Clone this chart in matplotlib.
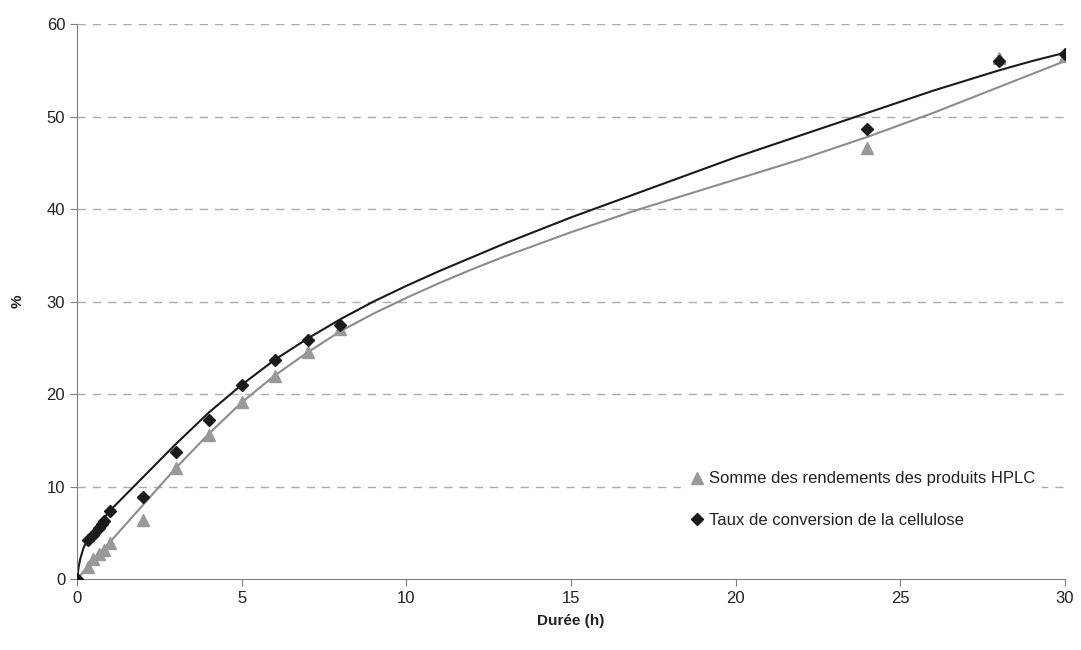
import numpy as np
import matplotlib
matplotlib.use('Agg')
import matplotlib.pyplot as plt

plt.rcParams['font.family'] = ['Liberation Sans', 'DejaVu Sans']

####measured points######################
duree_h   = [0, 0.33, 0.5, 0.67, 0.75, 0.83, 1, 2, 3, 4, 5, 6, 7, 8, 24, 28, 30]
taux_conv = [0, 4.2, 4.8, 5.5, 6.0, 6.3, 7.4, 8.9, 13.7, 17.2, 21.0, 23.7, 25.9, 27.5, 48.7, 56.0, 56.8]

duree_hplc = [0, 0.33, 0.5, 0.67, 0.83, 1, 2, 3, 4, 5, 6, 7, 8, 24, 28, 30]
somme_hplc = [0, 1.3, 2.2, 2.7, 3.1, 3.9, 6.4, 12.0, 15.6, 19.2, 22.0, 24.5, 27.0, 46.6, 56.3, 56.6]

####trend curves####
t_conv_fit = [0, 0.05, 0.1, 0.2, 0.33, 0.5, 0.75, 1, 1.5, 2, 2.5, 3, 4, 5, 6, 7, 8, 9,
              10, 11, 12, 13, 14, 15, 16, 17, 18, 19, 20, 21, 22, 23, 24, 25, 26, 27, 28, 29, 30]
conv_fit   = [0, 1.3, 2.2, 3.4, 4.3, 5.2, 6.3, 7.4, 9.2, 11.0, 12.8, 14.6, 18.0, 21.0, 23.7, 26.0, 28.1, 30.0,
              31.7, 33.3, 34.8, 36.3, 37.7, 39.1, 40.4, 41.7, 43.0, 44.3, 45.6, 46.8, 48.0, 49.2, 50.4,
              51.6, 52.8, 53.9, 55.0, 56.0, 56.9]

t_hplc_fit = [0, 1, 2, 3, 4, 5, 6, 7, 8, 9, 10, 11, 12, 13, 14, 15, 16, 17, 18, 19, 20,
              21, 22, 23, 24, 25, 26, 27, 28, 29, 30]
hplc_fit   = [0, 4.0, 8.0, 12.0, 15.7, 19.1, 22.0, 24.5, 26.8, 28.7, 30.4, 32.0, 33.5, 34.9, 36.2,
              37.5, 38.7, 39.9, 41.0, 42.1, 43.2, 44.3, 45.4, 46.6, 47.8, 49.1, 50.4, 51.8, 53.2, 54.6, 56.0]

lbl_hplc = 'Somme des rendements des produits HPLC'
lbl_conv = 'Taux de conversion de la cellulose'

grey  = '#999999'
black = '#1a1a1a'

fig = plt.figure(figsize=(10.81, 6.5), dpi=100)
ax  = fig.add_axes([0.0712, 0.109, 0.914, 0.854])

for yv in range(10, 61, 10):
    ax.axhline(yv, color='#ababab', lw=1, ls=(0, (6, 5)), zorder=0)

ax.plot(t_hplc_fit, hplc_fit, color='#8c8c8c', lw=1.5, zorder=2, solid_joinstyle='round')
ax.plot(t_conv_fit, conv_fit, color=black, lw=1.5, zorder=2, solid_joinstyle='round')
ax.plot(duree_hplc, somme_hplc, ls='none', marker='^', ms=8, color=grey, mec=grey, label=lbl_hplc, zorder=3)
ax.plot(duree_h, taux_conv, ls='none', marker='D', ms=6.5, color=black, mec=black, label=lbl_conv, zorder=4)

ax.set_xlim(0, 30)
ax.set_ylim(0, 60)
ax.set_xticks(range(0, 31, 5))
ax.set_yticks(range(0, 61, 10))
for s in ['top', 'right']:
    ax.spines[s].set_visible(False)
for s in ['left', 'bottom']:
    ax.spines[s].set_color('#808080')
ax.tick_params(direction='out', length=5, color='#808080', labelsize=12, labelcolor='#222222')
ax.set_xlabel('Durée (h)', fontsize=11, fontweight='bold', color='#222222', labelpad=6)
ax.set_ylabel('%', fontsize=11, fontweight='bold', color='#222222', labelpad=16)

leg = ax.legend(loc='lower right', bbox_to_anchor=(0.985, 0.065), frameon=True, fontsize=12,
                handletextpad=0.1, handlelength=1.2, borderpad=0.4, labelspacing=1.6)
leg.get_frame().set_edgecolor('none')
leg.get_frame().set_facecolor('white')
leg.get_frame().set_alpha(1)
for t in leg.get_texts():
    t.set_color('#222222')

fig.savefig('out.png', dpi=100)
